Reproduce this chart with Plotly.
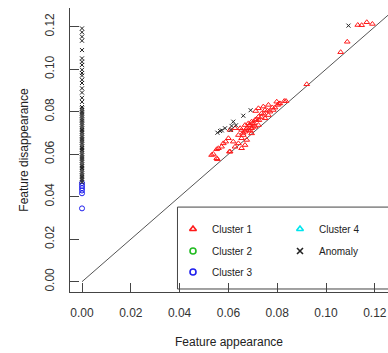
import plotly.graph_objects as go

# ---- data ----
c1_x = [0.1130, 0.1146, 0.1167, 0.1190, 0.1087, 0.1060, 0.0921, 0.0836, 0.0807,
        0.0829, 0.0811, 0.0802, 0.0791, 0.0784, 0.0770, 0.0764, 0.0750, 0.0736,
        0.0723, 0.0712, 0.0709, 0.0695, 0.0682, 0.0668, 0.0675, 0.0654, 0.0682,
        0.0695, 0.0709, 0.0648, 0.0668, 0.0695, 0.0661, 0.0641, 0.0654, 0.0675,
        0.0668, 0.0607, 0.0627, 0.0600, 0.0589, 0.0579, 0.0572, 0.0559, 0.0552,
        0.0531, 0.0552, 0.0607, 0.0627, 0.0723, 0.0743, 0.0764, 0.0798, 0.0750,
        0.0723, 0.0689, 0.0641, 0.0620, 0.0654, 0.0538, 0.0555, 0.0604, 0.0700,
        0.0690, 0.0705, 0.0715, 0.0685, 0.0698, 0.0660, 0.0672, 0.0725, 0.0735,
        0.0745, 0.0760, 0.0780]
c1_y = [0.1208, 0.1207, 0.1221, 0.1213, 0.1129, 0.1080, 0.0929, 0.0850, 0.0838,
        0.0850, 0.0839, 0.0832, 0.0819, 0.0808, 0.0800, 0.0784, 0.0808, 0.0792,
        0.0776, 0.0803, 0.0761, 0.0753, 0.0745, 0.0737, 0.0722, 0.0714, 0.0714,
        0.0722, 0.0729, 0.0722, 0.0706, 0.0698, 0.0690, 0.0690, 0.0675, 0.0667,
        0.0643, 0.0714, 0.0722, 0.0675, 0.0659, 0.0651, 0.0635, 0.0628, 0.0623,
        0.0596, 0.0581, 0.0612, 0.0635, 0.0816, 0.0824, 0.0832, 0.0847, 0.0769,
        0.0737, 0.0737, 0.0651, 0.0659, 0.0628, 0.0601, 0.0576, 0.0612, 0.0730,
        0.0710, 0.0745, 0.0765, 0.0735, 0.0745, 0.0700, 0.0715, 0.0760, 0.0775,
        0.0790, 0.0805, 0.0820]

c2_x, c2_y = [], []
c4_x, c4_y = [], []

c3_x = [0.0, 0.0, 0.0, 0.0, 0.0, 0.0]
c3_y = [0.0464, 0.0451, 0.0440, 0.0429, 0.0416, 0.0345]

anom_y_zero = [0.1192, 0.1174, 0.1153, 0.1134, 0.1090, 0.1051, 0.1035, 0.1020,
               0.0997, 0.0982, 0.0970, 0.0950, 0.0935, 0.0910, 0.0890, 0.0865,
               0.0846, 0.0822, 0.0815, 0.0806, 0.0798, 0.0790, 0.0781, 0.0772,
               0.0764, 0.0757, 0.0748, 0.0739, 0.0731, 0.0722, 0.0714, 0.0705,
               0.0697, 0.0688, 0.0680, 0.0671, 0.0663, 0.0654, 0.0646, 0.0637,
               0.0629, 0.0620, 0.0612, 0.0603, 0.0595, 0.0586, 0.0578, 0.0569,
               0.0561, 0.0552, 0.0544, 0.0535, 0.0527, 0.0518, 0.0510, 0.0501,
               0.0493, 0.0484, 0.0476, 0.0468]
anom_x_other = [0.0555, 0.0566, 0.0573, 0.0586, 0.0609, 0.0613, 0.0620, 0.0631,
                0.0661, 0.0691, 0.1092]
anom_y_other = [0.0701, 0.0709, 0.0712, 0.0722, 0.0714, 0.0733, 0.0753, 0.0736,
                0.0781, 0.0807, 0.1205]
anom_x = [0.0] * len(anom_y_zero) + anom_x_other
anom_y = anom_y_zero + anom_y_other

ref_line = [0.0, 0.14]  # y = x reference

x_ticks = [0.00, 0.02, 0.04, 0.06, 0.08, 0.10, 0.12]
y_ticks = [0.00, 0.02, 0.04, 0.06, 0.08, 0.10, 0.12]

legend_names = ["Cluster 1", "Cluster 2", "Cluster 3", "Cluster 4", "Anomaly"]

FONT = "Liberation Sans, Arial, sans-serif"

series = [
    ("Cluster 1", c1_x, c1_y, "triangle-up-open", "#ff1a1a", 5),
    ("Cluster 2", c2_x, c2_y, "circle-open", "#22bb22", 5),
    ("Cluster 3", c3_x, c3_y, "circle-open", "#2020ee", 5),
    ("Cluster 4", c4_x, c4_y, "triangle-up-open", "#00e5ee", 5),
    ("Anomaly", anom_x, anom_y, "x-thin-open", "#222222", 4),
]

fig = go.Figure()

fig.add_trace(go.Scatter(x=ref_line, y=ref_line, mode="lines",
                         line=dict(color="#555555", width=1),
                         showlegend=False, hoverinfo="skip"))

for name, xs, ys, sym, col, sz in series:
    fig.add_trace(go.Scatter(x=xs, y=ys, mode="markers", name=name,
                             marker=dict(symbol=sym, size=sz, color=col,
                                         line=dict(width=1, color=col)),
                             showlegend=False))

# ---- manual legend (layout, in pixel space of an overlay axis) ----
leg_pos = {"Cluster 1": (193, 229), "Cluster 2": (193, 251), "Cluster 3": (193, 272),
           "Cluster 4": (300, 229), "Anomaly": (300, 251)}
annotations = []
for name, xs, ys, sym, col, sz in series:
    px, py = leg_pos[name]
    fig.add_trace(go.Scatter(x=[px], y=[py], xaxis="x2", yaxis="y2", mode="markers",
                             marker=dict(symbol=sym, size=6, color=col,
                                         line=dict(width=1.6, color=col)),
                             showlegend=False, hoverinfo="skip"))
    annotations.append(dict(x=px + 17, y=py, xref="x2", yref="y2", text=name,
                            showarrow=False, xanchor="left", yanchor="middle",
                            font=dict(size=10, color="#222222", family=FONT)))

fig.update_layout(
    width=388, height=353,
    margin=dict(l=70, r=0, t=8, b=61),
    paper_bgcolor="white", plot_bgcolor="white",
    font=dict(family=FONT, size=12, color="#333333"),
    showlegend=False,
    annotations=annotations,
    shapes=[dict(type="rect", xref="paper", yref="paper", x0=0.338, x1=1.2,
                 y0=0.0106, y1=0.299, line=dict(color="#444444", width=1))],
    xaxis2=dict(overlaying="x", range=[70, 388], visible=False, anchor="y2"),
    yaxis2=dict(overlaying="y", range=[292, 8], visible=False, anchor="x2"),
)

fig.update_xaxes(selector=dict(anchor="y"), range=[-0.00492, 0.1254], tickvals=x_ticks,
                 ticktext=[f"{v:.2f}" for v in x_ticks],
                 ticks="inside", ticklen=9, tickcolor="#444444",
                 showline=True, linecolor="#444444", linewidth=1, mirror=False,
                 showgrid=False, zeroline=False, ticklabelstandoff=10,
                 title=dict(text="Feature appearance", standoff=18,
                            font=dict(size=12, color="#222222")))
fig.update_layout(yaxis=dict(range=[-0.00485, 0.1288], tickvals=y_ticks,
                 ticktext=[f"{v:.2f}" for v in y_ticks], tickangle=-90,
                 ticks="inside", ticklen=9, tickcolor="#444444",
                 showline=True, linecolor="#444444", linewidth=1, mirror=True,
                 showgrid=False, zeroline=False, ticklabelstandoff=10,
                 title=dict(text="Feature disappearance", standoff=12,
                            font=dict(size=12, color="#222222"))))
fig.update_layout(xaxis=dict(range=[-0.00492, 0.1254], tickvals=x_ticks,
                 ticktext=[f"{v:.2f}" for v in x_ticks],
                 ticks="inside", ticklen=9, tickcolor="#444444",
                 showline=True, linecolor="#444444", linewidth=1, mirror=False,
                 showgrid=False, zeroline=False, ticklabelstandoff=10,
                 title=dict(text="Feature appearance", standoff=18,
                            font=dict(size=12, color="#222222"))))

fig.write_html("out.html")
